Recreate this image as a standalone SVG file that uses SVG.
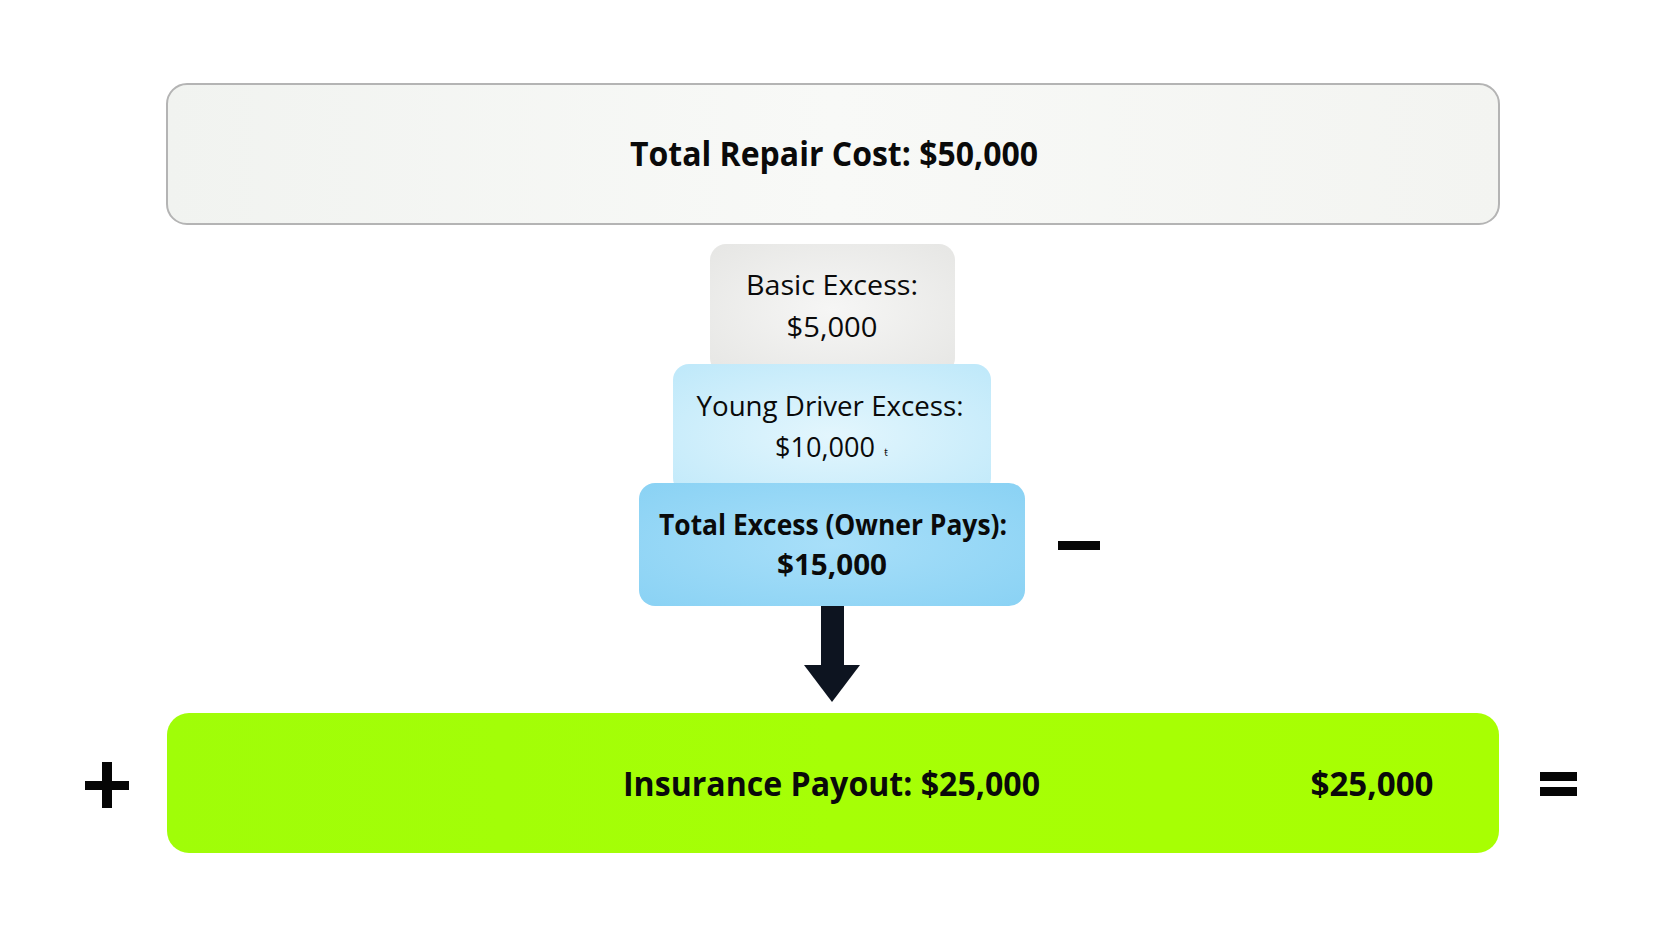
<svg xmlns="http://www.w3.org/2000/svg" width="1666" height="937" viewBox="0 0 1666 937">
  <style>
    .t { font-family: "Open Sans", "Noto Sans", "Liberation Sans", sans-serif; fill: #0a0a0a; text-anchor: middle; }
    .b { font-weight: 700; }
    .big { font-size: 34px; }
    .mid { font-size: 28px; }
    .sym { fill: #050505; }
  </style>
  <defs>
    <linearGradient id="gTop" x1="0" y1="0" x2="1" y2="0">
      <stop offset="0" stop-color="#f1f3f0"/>
      <stop offset="0.5" stop-color="#f8f9f7"/>
      <stop offset="1" stop-color="#f3f4f1"/>
    </linearGradient>
    <radialGradient id="gBasic" cx="0.5" cy="0.5" r="0.7">
      <stop offset="0" stop-color="#f6f6f5"/>
      <stop offset="1" stop-color="#e6e6e4"/>
    </radialGradient>
    <radialGradient id="gYoung" cx="0.5" cy="0.55" r="0.7">
      <stop offset="0" stop-color="#e3f6fd"/>
      <stop offset="1" stop-color="#c0e9fa"/>
    </radialGradient>
    <radialGradient id="gTotal" cx="0.5" cy="0.5" r="0.7">
      <stop offset="0" stop-color="#a8dff9"/>
      <stop offset="1" stop-color="#8ad2f4"/>
    </radialGradient>
    <linearGradient id="gGreen" x1="0" y1="0" x2="1" y2="0">
      <stop offset="0" stop-color="#a0fd08"/>
      <stop offset="0.5" stop-color="#a6ff06"/>
      <stop offset="1" stop-color="#a8ff02"/>
    </linearGradient>
  </defs>
  <rect x="0" y="0" width="1666" height="937" fill="#ffffff"/>

  <g id="total-repair">
    <rect x="167" y="84" width="1332" height="140" rx="20" fill="url(#gTop)" stroke="#b4b4b4" stroke-width="2"/>
    <text class="t b big" x="834" y="166" textLength="408" lengthAdjust="spacingAndGlyphs">Total Repair Cost: $50,000</text>
  </g>

  <g id="basic-excess">
    <rect x="710" y="244" width="245" height="130" rx="16" fill="url(#gBasic)"/>
    <text class="t mid" x="832" y="295" textLength="172" lengthAdjust="spacingAndGlyphs">Basic Excess:</text>
    <text class="t mid" x="832" y="337" textLength="91" lengthAdjust="spacingAndGlyphs">$5,000</text>
  </g>

  <g id="young-driver-excess">
    <rect x="673" y="364" width="318" height="130" rx="16" fill="url(#gYoung)"/>
    <text class="t mid" x="830" y="416" textLength="267" lengthAdjust="spacingAndGlyphs">Young Driver Excess:</text>
    <text class="t mid" x="825" y="457" textLength="100" lengthAdjust="spacingAndGlyphs">$10,000</text>
    <text class="t" x="886" y="456" font-size="10" fill="#555">ŧ</text>
  </g>

  <g id="total-excess">
    <rect x="639" y="483" width="386" height="123" rx="16" fill="url(#gTotal)"/>
    <text class="t b mid" x="833" y="535" textLength="348" lengthAdjust="spacingAndGlyphs">Total Excess (Owner Pays):</text>
    <text class="t b mid" x="832" y="575" textLength="110" lengthAdjust="spacingAndGlyphs">$15,000</text>
  </g>

  <g id="minus">
    <rect class="sym" x="1058" y="541" width="42" height="9"/>
  </g>

  <g id="connectors">
    <rect x="821" y="606" width="23" height="60" fill="#0d1420"/>
    <polygon points="804,665 860,665 832,702" fill="#0d1420"/>
  </g>

  <g id="insurance-payout">
    <rect x="167" y="713" width="1332" height="140" rx="22" fill="url(#gGreen)"/>
    <text class="t b big" x="831.5" y="796" textLength="417" lengthAdjust="spacingAndGlyphs">Insurance Payout: $25,000</text>
    <text class="t b big" x="1372" y="796" textLength="123" lengthAdjust="spacingAndGlyphs">$25,000</text>
  </g>

  <g id="plus">
    <rect class="sym" x="85" y="781" width="44" height="9"/>
    <rect class="sym" x="102" y="762" width="10" height="46"/>
  </g>

  <g id="equals">
    <rect class="sym" x="1540" y="772" width="37" height="9"/>
    <rect class="sym" x="1540" y="787" width="37" height="9"/>
  </g>
</svg>
